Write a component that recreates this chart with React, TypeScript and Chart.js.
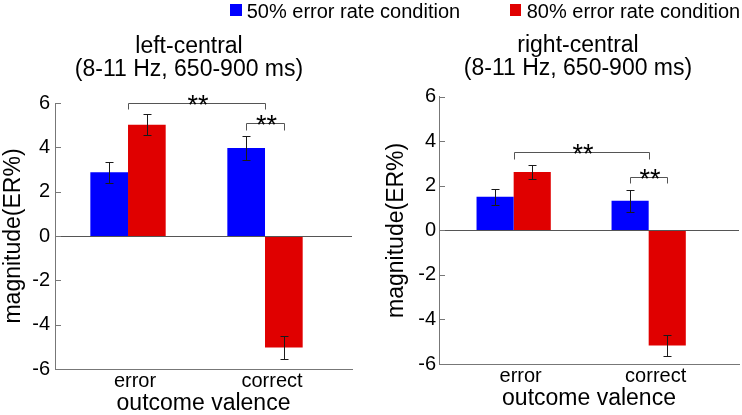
import React, { useEffect, useRef } from "react";
import { Chart, registerables } from "chart.js";

Chart.register(...registerables);

// ---- data ----
const categories = ["error", "correct"];
const seriesNames = ["50% error rate condition", "80% error rate condition"];
const seriesColors = ["#0000FF", "#E00000"];

const yTitle = "magnitude(ER%)";
const xTitle = "outcome valence";
const yMin = -6;
const yMax = 6;
const yStep = 2;

const leftTitle = ["left-central", "(8-11 Hz, 650-900 ms)"];
const left50 = [2.88, 3.97];
const left50Err = [0.48, 0.52];
const left80 = [5.02, -5.03];
const left80Err = [0.47, 0.52];
// significance: from [category, series(-1 = group centre)], to, level, drop
const leftSig = [
  { from: [0, -1], to: [1, -1], level: 6.0, drop: 0.28, text: "**" },
  { from: [1, 0], to: [1, 1], level: 5.09, drop: 0.32, text: "**" },
];

const rightTitle = ["right-central", "(8-11 Hz, 650-900 ms)"];
const right50 = [1.51, 1.33];
const right50Err = [0.35, 0.49];
const right80 = [2.62, -5.17];
const right80Err = [0.32, 0.48];
const rightSig = [
  { from: [0, -1], to: [1, -1], level: 3.5, drop: 0.3, text: "**" },
  { from: [1, 0], to: [1, 1], level: 2.38, drop: 0.26, text: "**" },
];

const FAMILY = '"Liberation Sans", Arial, Helvetica, sans-serif';

type Panel = {
  title: string[];
  s50: number[];
  e50: number[];
  s80: number[];
  e80: number[];
  sig: { from: number[]; to: number[]; level: number; drop: number; text: string }[];
  xMin: number;
  xMax: number;
  titlePad: { top: number; bottom: number };
  xHeight: number;
  xTitlePadBottom: number;
  yWidth: number;
  yTitlePad: number;
  yTickPad: number;
  rightWidth: number;
};

const leftPanel: Panel = {
  title: leftTitle,
  s50: left50,
  e50: left50Err,
  s80: left80,
  e80: left80Err,
  sig: leftSig,
  xMin: 0.467,
  xMax: 2.635,
  titlePad: { top: 35.5, bottom: 21.5 },
  xHeight: 46,
  xTitlePadBottom: 0,
  yWidth: 55,
  yTitlePad: 2.5,
  yTickPad: 5,
  rightWidth: 26,
};

const rightPanel: Panel = {
  title: rightTitle,
  s50: right50,
  e50: right50Err,
  s80: right80,
  e80: right80Err,
  sig: rightSig,
  xMin: 0.447,
  xMax: 2.669,
  titlePad: { top: 34, bottom: 16.7 },
  xHeight: 51,
  xTitlePadBottom: 4.8,
  yWidth: 59,
  yTitlePad: 5,
  yTickPad: 3,
  rightWidth: 37,
};

function annotatePlugin(p: Panel) {
  return {
    id: "annotate",
    afterDatasetsDraw(chart: any) {
      const { ctx, chartArea } = chart;
      const y = chart.scales.y;
      const x = chart.scales.x;
      ctx.save();
      ctx.lineWidth = 1;
      // zero line
      const y0 = Math.round(y.getPixelForValue(0)) + 0.5;
      ctx.strokeStyle = "#555";
      ctx.beginPath();
      ctx.moveTo(chartArea.left, y0);
      ctx.lineTo(chartArea.right, y0);
      ctx.stroke();
      // error bars
      const errs = [p.e50, p.e80];
      const vals = [p.s50, p.s80];
      ctx.strokeStyle = "#1a1a1a";
      errs.forEach((e, di) => {
        const meta = chart.getDatasetMeta(di);
        meta.data.forEach((bar: any, i: number) => {
          const v = vals[di][i];
          const cx = Math.round(bar.x) + 0.5;
          const t = Math.round(y.getPixelForValue(v + e[i])) + 0.5;
          const b = Math.round(y.getPixelForValue(v - e[i])) + 0.5;
          ctx.beginPath();
          ctx.moveTo(cx, t);
          ctx.lineTo(cx, b);
          ctx.moveTo(cx - 4, t);
          ctx.lineTo(cx + 4, t);
          ctx.moveTo(cx - 4, b);
          ctx.lineTo(cx + 4, b);
          ctx.stroke();
        });
      });
      // significance brackets
      const xOf = (cat: number, series: number) =>
        series < 0
          ? x.getPixelForValue(cat + 1)
          : chart.getDatasetMeta(series).data[cat].x;
      p.sig.forEach((s) => {
        const x1 = Math.round(xOf(s.from[0], s.from[1])) + 0.5;
        const x2 = Math.round(xOf(s.to[0], s.to[1])) + 0.5;
        const yl = Math.round(y.getPixelForValue(s.level)) + 0.5;
        const yd = Math.round(y.getPixelForValue(s.level - s.drop)) + 0.5;
        ctx.strokeStyle = "#555";
        ctx.beginPath();
        ctx.moveTo(x1, yd);
        ctx.lineTo(x1, yl);
        ctx.lineTo(x2, yl);
        ctx.lineTo(x2, yd);
        ctx.stroke();
        ctx.fillStyle = "#000";
        ctx.font = `27px ${FAMILY}`;
        ctx.textAlign = "center";
        ctx.textBaseline = "alphabetic";
        ctx.fillText(s.text, (x1 + x2) / 2 + 1, yl + 10);
      });
      ctx.restore();
    },
    afterDraw(chart: any) {
      const { ctx, chartArea } = chart;
      const y = chart.scales.y;
      ctx.save();
      ctx.strokeStyle = "#777";
      ctx.lineWidth = 1;
      y.ticks.forEach((t: any) => {
        const py = Math.round(y.getPixelForValue(t.value)) + 0.5;
        ctx.beginPath();
        ctx.moveTo(chartArea.left, py);
        ctx.lineTo(chartArea.left + 6, py);
        ctx.stroke();
      });
      ctx.restore();
    },
  };
}

function buildConfig(p: Panel): any {
  const tickFont = { family: FAMILY, size: 20, lineHeight: 1.2 };
  const bigFont = { family: FAMILY, size: 23, lineHeight: 1 };
  return {
    type: "bar",
    data: {
      datasets: [
        {
          label: seriesNames[0],
          data: p.s50.map((v, i) => ({ x: i + 1, y: v })),
          backgroundColor: seriesColors[0],
          borderWidth: 0,
          categoryPercentage: 0.55,
          barPercentage: 1,
        },
        {
          label: seriesNames[1],
          data: p.s80.map((v, i) => ({ x: i + 1, y: v })),
          backgroundColor: seriesColors[1],
          borderWidth: 0,
          categoryPercentage: 0.55,
          barPercentage: 1,
        },
      ],
    },
    options: {
      responsive: false,
      animation: false,
      events: [],
      layout: { padding: 0 },
      plugins: {
        legend: { display: false },
        tooltip: { enabled: false },
        title: {
          display: true,
          text: p.title,
          color: "#000",
          font: { ...bigFont, weight: "normal" },
          padding: p.titlePad,
        },
      },
      scales: {
        x: {
          type: "linear",
          min: p.xMin,
          max: p.xMax,
          offset: false,
          afterBuildTicks: (s: any) => {
            s.ticks = categories.map((_, i) => ({ value: i + 1 }));
          },
          afterFit: (s: any) => {
            s.height = p.xHeight;
          },
          ticks: {
            callback: (v: number) => categories[Math.round(v) - 1] ?? "",
            font: tickFont,
            color: "#000",
            padding: 0,
            labelOffset: 7,
            autoSkip: false,
            maxRotation: 0,
          },
          grid: { display: false, drawTicks: false },
          border: { display: true, color: "#777", width: 1 },
          title: {
            display: true,
            text: xTitle,
            color: "#000",
            font: bigFont,
            padding: { top: 0, bottom: p.xTitlePadBottom },
          },
        },
        y: {
          min: yMin,
          max: yMax,
          afterFit: (s: any) => {
            s.width = p.yWidth;
          },
          ticks: { stepSize: yStep, font: tickFont, color: "#000", padding: p.yTickPad },
          grid: { display: false, drawTicks: false },
          border: { display: true, color: "#777", width: 1 },
          title: {
            display: true,
            text: yTitle,
            color: "#000",
            font: bigFont,
            padding: { top: p.yTitlePad, bottom: 0 },
          },
        },
        yR: {
          position: "right",
          display: true,
          afterFit: (s: any) => {
            s.width = p.rightWidth;
          },
          ticks: { display: false },
          grid: { display: false, drawTicks: false },
          border: { display: false },
        },
      },
    },
    plugins: [annotatePlugin(p)],
  };
}

export default function App() {
  const leftRef = useRef<HTMLCanvasElement | null>(null);
  const rightRef = useRef<HTMLCanvasElement | null>(null);

  useEffect(() => {
    const c1 = new Chart(leftRef.current as HTMLCanvasElement, buildConfig(leftPanel));
    const c2 = new Chart(rightRef.current as HTMLCanvasElement, buildConfig(rightPanel));
    return () => {
      c1.destroy();
      c2.destroy();
    };
  }, []);

  const legendText: React.CSSProperties = {
    position: "absolute",
    top: 1.4,
    fontFamily: FAMILY,
    fontSize: 20,
    lineHeight: "20px",
    whiteSpace: "nowrap",
    color: "#000",
  };

  return (
    <div
      style={{
        position: "fixed",
        left: 0,
        top: 0,
        width: 742,
        height: 415,
        overflow: "hidden",
        background: "#fff",
      }}
    >
      <canvas
        ref={leftRef}
        width={378}
        height={415}
        style={{ position: "absolute", left: 0, top: 0, width: 378, height: 415 }}
      />
      <canvas
        ref={rightRef}
        width={396}
        height={415}
        style={{ position: "absolute", left: 380, top: 0, width: 396, height: 415 }}
      />
      <div style={{ position: "absolute", left: 230, top: 4, width: 12, height: 12, background: seriesColors[0] }} />
      <div style={{ ...legendText, left: 246.7 }}>{seriesNames[0]}</div>
      <div style={{ position: "absolute", left: 510, top: 4, width: 11, height: 12, background: seriesColors[1] }} />
      <div style={{ ...legendText, left: 526.7 }}>{seriesNames[1]}</div>
    </div>
  );
}
